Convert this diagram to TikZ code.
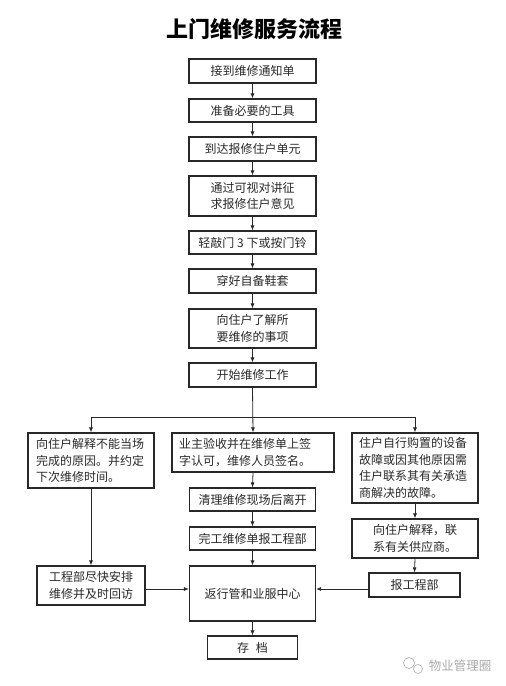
\documentclass[tikz,border=0pt]{standalone}
\usepackage{fontspec}
\usepackage{tikz}
\usetikzlibrary{positioning,arrows.meta,calc}
\newfontfamily\cjk{Noto Sans CJK SC}
\definecolor{ink}{RGB}{40,40,40}
\definecolor{markgray}{RGB}{170,170,170}

\begin{document}
\begin{tikzpicture}[x=1pt,y=-1pt,
    box/.style={draw=ink,line width=1.1pt,inner sep=0pt,align=center,text=ink,
      font=\cjk\fontsize{12}{16.5}\selectfont},
    lbox/.style={box,align=left,inner xsep=7pt},
    flow/.style={draw=ink,line width=0.8pt,-{Latex[length=5pt,width=4pt]}}]
  \useasboundingbox (0,0) rectangle (506,686);
  \node[text=black,font=\cjk\bfseries\fontsize{22}{22}\selectfont] (title) at (254,29) {上门维修服务流程};
  % main column
  \node[box,minimum width=127,minimum height=24] (m1) at (252.5,71) {接到维修通知单};
  \node[box,minimum width=127,minimum height=23] (m2) at (252.5,110.5) {准备必要的工具};
  \node[box,minimum width=127,minimum height=24] (m3) at (252.5,149) {到达报修住户单元};
  \node[box,minimum width=127,minimum height=40] (m4) at (252.5,196) {通过可视对讲征\\求报修住户意见};
  \node[box,minimum width=127,minimum height=23] (m5) at (252.5,242.5) {轻敲门 3 下或按门铃};
  \node[box,minimum width=127,minimum height=24] (m6) at (252.5,281) {穿好自备鞋套};
  \node[box,minimum width=127,minimum height=39] (m7) at (252.5,328.5) {向住户了解所\\要维修的事项};
  \node[box,minimum width=127,minimum height=24] (m8) at (252.5,375) {开始维修工作};
  \coordinate (fork) at (252.5,417);
  % three branches
  \node[lbox,inner xsep=8pt,text width=110,minimum height=55] (left1) at (91,460.5)
    {向住户解释不能当场\\完成的原因。并约定\\下次维修时间。};
  \node[lbox,text width=148,minimum height=39] (mid1) at (253,452.5)
    {业主验收并在维修单上签\\字认可，维修人员签名。};
  \node[box,minimum width=126,minimum height=23] (mid2) at (252.5,499.5) {清理维修现场后离开};
  \node[box,minimum width=126,minimum height=23] (mid3) at (252.5,538.5) {完工维修单报工程部};
  \node[lbox,text width=112,minimum height=70] (right1) at (415,468)
    {住户自行购置的设备\\故障或因其他原因需\\住户联系其有关承造\\商解决的故障。};
  \node[box,minimum width=126,minimum height=39] (right2) at (415,538.5) {向住户解释，联\\系有关供应商。};
  \node[box,minimum width=91,minimum height=24] (right3) at (414.5,585) {报工程部};
  \node[box,minimum width=108,minimum height=39] (left2) at (91,585.5) {工程部尽快安排\\维修并及时回访};
  \node[box,minimum width=126,minimum height=55] (center) at (252.5,593.5) {返行管和业服中心};
  \node[box,minimum width=90,minimum height=23] (archive) at (252.5,647.5) {存\hspace{7pt}档};
  \coordinate (hub) at (252.5,589);
  % connectors
  \foreach \a/\b in {m1/m2,m2/m3,m3/m4,m4/m5,m5/m6,m6/m7,m7/m8,m8/mid1,mid1/mid2,mid2/mid3,
      mid3/center,center/archive,left1/left2,right1/right2,right2/right3}
    \draw[flow] (\a.south) -- (\b.north);
  \draw[flow] (fork) -| (left1.north);
  \draw[flow] (fork) -| (right1.north);
  \draw[flow] (left2.east |- hub) -- (center.west |- hub);
  \draw[flow] (right3.west |- hub) -- (center.east |- hub);
  % watermark
  \draw[markgray,line width=0.6pt] (409,663) circle (5.5) (418,669) circle (4.5);
  \node[text=markgray,font=\cjk\fontsize{12.5}{12.5}\selectfont] (mark) at (460,666) {物业管理圈};
\end{tikzpicture}
\end{document}
